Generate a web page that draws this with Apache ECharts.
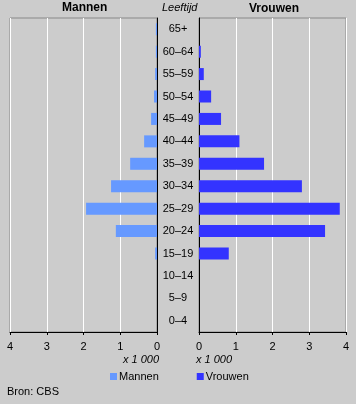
<!DOCTYPE html>
<html><head><meta charset="utf-8">
<script src="https://cdn.jsdelivr.net/npm/echarts@6/dist/echarts.min.js"></script>
<style>html,body{margin:0;padding:0;background:#cccccc;}#c{width:356px;height:404px;}</style>
</head><body><div id="c"></div>
<script>
const categories = ['0–4','5–9','10–14','15–19','20–24','25–29','30–34','35–39','40–44','45–49','50–54','55–59','60–64','65+'];
const mannen = [0,0,0,0.05,1.12,1.93,1.25,0.73,0.35,0.16,0.08,0.05,0.03,0.03];
const vrouwen = [0,0,0,0.81,3.43,3.83,2.8,1.77,1.1,0.6,0.33,0.13,0.05,0];
const xTicks = [0,1,2,3,4];

const font = 'Liberation Sans, Arial, sans-serif';
const chart = echarts.init(document.getElementById('c'), null, {renderer:'canvas'});
const xAxisCommon = {
  type:'value', min:xTicks[0], max:xTicks[xTicks.length-1], interval:1,
  axisLine:{show:true, lineStyle:{color:'#000', width:1}},
  axisTick:{show:true, length:3, lineStyle:{color:'#000'}},
  axisLabel:{color:'#000', fontSize:11, fontFamily:font, margin:9},
  splitLine:{show:true, lineStyle:{color:'#ffffff', width:1}}
};
chart.setOption({
  backgroundColor:'#cccccc',
  animation:false,
  textStyle:{fontFamily:font},
  grid:[
    {left:10, top:18, width:147, height:314, show:true, borderColor:'#888888', borderWidth:1, backgroundColor:'#cccccc'},
    {left:199, top:18, width:147, height:314, show:true, borderColor:'#888888', borderWidth:1, backgroundColor:'#cccccc'}
  ],
  xAxis:[
    Object.assign({}, xAxisCommon, {gridIndex:0, inverse:true}),
    Object.assign({}, xAxisCommon, {gridIndex:1})
  ],
  yAxis:[
    {type:'category', gridIndex:0, data:categories, position:'right',
     axisLine:{show:true, lineStyle:{color:'#000'}}, axisTick:{show:false}, axisLabel:{show:false}, splitLine:{show:false}},
    {type:'category', gridIndex:1, data:categories, position:'left',
     axisLine:{show:true, lineStyle:{color:'#000'}}, axisTick:{show:false},
     axisLabel:{show:true, align:'center', margin:21, color:'#000', fontSize:11, fontFamily:font}, splitLine:{show:false}}
  ],
  legend:{
    left:110, top:371, padding:0, itemWidth:7, itemHeight:7, itemGap:38, icon:'rect',
    textStyle:{color:'#000', fontSize:11, fontFamily:font, padding:[0,0,0,-3]},
    data:['Mannen','Vrouwen']
  },
  series:[
    {name:'Mannen', type:'bar', xAxisIndex:0, yAxisIndex:0, data:mannen, barWidth:12, itemStyle:{color:'#6699ff'}},
    {name:'Vrouwen', type:'bar', xAxisIndex:1, yAxisIndex:1, data:vrouwen, barWidth:12, itemStyle:{color:'#3333ff'}}
  ],
  graphic:[
    {type:'text', left:62, top:2, style:{text:'Mannen', font:'bold 12px '+font, fill:'#000'}},
    {type:'text', left:249, top:3, style:{text:'Vrouwen', font:'bold 12px '+font, fill:'#000'}},
    {type:'text', left:162, top:2, style:{text:'Leeftijd', font:'italic 11px '+font, fill:'#000'}},
    {type:'text', right:197, top:354, style:{text:'x 1 000', font:'italic 11px '+font, fill:'#000'}},
    {type:'text', left:196, top:354, style:{text:'x 1 000', font:'italic 11px '+font, fill:'#000'}},
    {type:'text', left:7, top:386, style:{text:'Bron: CBS', font:'11px '+font, fill:'#000'}}
  ]
});
</script>
</body></html>
